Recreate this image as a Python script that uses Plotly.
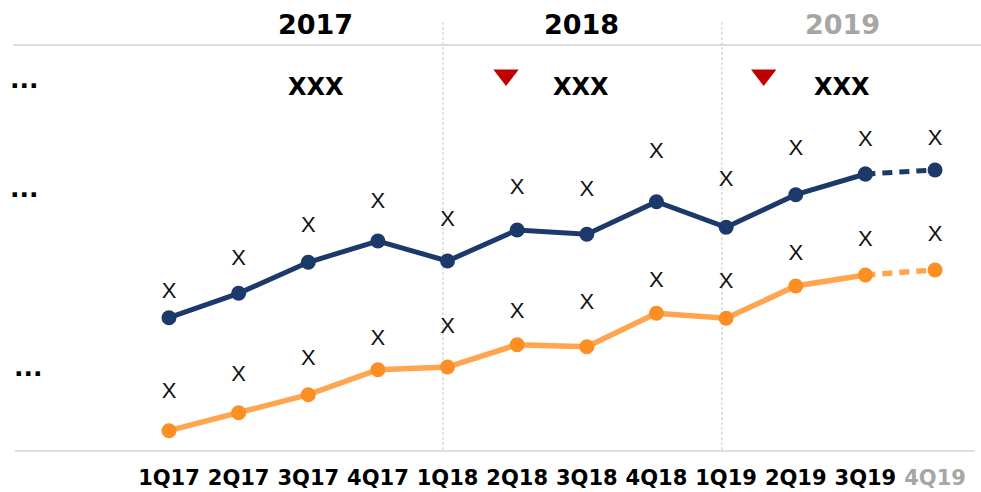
import plotly.graph_objects as go

# ---- data ----
quarters = ["1Q17", "2Q17", "3Q17", "4Q17", "1Q18", "2Q18",
            "3Q18", "4Q18", "1Q19", "2Q19", "3Q19", "4Q19"]
blue_vals = [142.3, 166.7, 197.7, 219.0, 199.0, 230.0,
             225.7, 258.3, 232.7, 265.3, 286.0, 290.0]
orange_vals = [29.3, 47.3, 65.3, 90.3, 93.0, 115.3,
               113.3, 146.7, 141.7, 174.0, 185.0, 190.0]
blue_labels = ["X"] * 12
orange_labels = ["X"] * 12
blue_label_y = [167.7, 200.7, 233.3, 258.0, 239.7, 271.7,
                270.0, 307.7, 279.3, 310.7, 320.0, 320.7]
orange_label_y = [67.7, 84.3, 101.0, 120.7, 132.7, 147.7,
                  156.7, 178.3, 177.7, 205.3, 220.0, 225.0]
years = ["2017", "2018", "2019"]
year_values = ["XXX", "XXX", "XXX"]
row_labels = ["...", "...", "..."]

BLUE = "#1B3A6B"
ORANGE_LINE = "#FFA54F"
ORANGE_MARK = "#FB8F24"
GREY = "#A6A6A6"

x = list(range(len(quarters)))
n_solid = 11  # last segment (3Q19 -> 4Q19) is dashed

fig = go.Figure()

# blue series
fig.add_trace(go.Scatter(x=x[:n_solid], y=blue_vals[:n_solid], mode="lines+markers",
                         line=dict(color=BLUE, width=5),
                         marker=dict(color=BLUE, size=15), showlegend=False, hoverinfo="skip"))
fig.add_trace(go.Scatter(x=x[n_solid - 1:], y=blue_vals[n_solid - 1:], mode="lines+markers",
                         line=dict(color=BLUE, width=5, dash="10px,7px"),
                         marker=dict(color=BLUE, size=15), showlegend=False, hoverinfo="skip"))
# orange series
fig.add_trace(go.Scatter(x=x[:n_solid], y=orange_vals[:n_solid], mode="lines",
                         line=dict(color=ORANGE_LINE, width=5.5), showlegend=False, hoverinfo="skip"))
fig.add_trace(go.Scatter(x=x[n_solid - 1:], y=orange_vals[n_solid - 1:], mode="lines",
                         line=dict(color=ORANGE_LINE, width=5.5, dash="10px,7px"),
                         showlegend=False, hoverinfo="skip"))
fig.add_trace(go.Scatter(x=x, y=orange_vals, mode="markers",
                         marker=dict(color=ORANGE_MARK, size=15), showlegend=False, hoverinfo="skip"))

# value labels
fig.add_trace(go.Scatter(x=x, y=blue_label_y, mode="text", text=blue_labels,
                         textfont=dict(family="Liberation Sans", size=22, color="#111111"),
                         showlegend=False, hoverinfo="skip"))
fig.add_trace(go.Scatter(x=x, y=orange_label_y, mode="text", text=orange_labels,
                         textfont=dict(family="Liberation Sans", size=22, color="#111111"),
                         showlegend=False, hoverinfo="skip"))

# year headers and values
year_x = [2.11, 5.92, 9.67]
year_colors = ["#000000", "#000000", GREY]
for yx, yr, col, val in zip(year_x, years, year_colors, year_values):
    fig.add_annotation(x=yx, y=436, text=yr, showarrow=False, xanchor="center", yanchor="middle",
                       font=dict(family="DejaVu Sans", size=27, color=col, weight="bold"))
    fig.add_annotation(x=yx, y=373, text=val, showarrow=False, xanchor="center", yanchor="middle",
                       font=dict(family="DejaVu Sans", size=24, color="#000000", weight="bold"))

tri_x = [4.84, 8.54]
fig.add_trace(go.Scatter(x=tri_x, y=[385, 385], mode="markers",
                         marker=dict(symbol="triangle-down", size=22, color="#C00000"),
                         showlegend=False, hoverinfo="skip"))

# row labels "..."
for rx, ry, lab in zip([-2.08, -2.08, -2.02], [381, 272, 93], row_labels):
    fig.add_annotation(x=rx, y=ry, text=lab, showarrow=False, xanchor="center", yanchor="middle",
                       font=dict(family="DejaVu Sans", size=25, color="#000000", weight="bold"))

# separators
for sx in [3.934, 7.94]:
    fig.add_shape(type="line", x0=sx, x1=sx, y0=10, y1=440, xref="x", yref="y",
                  line=dict(color="#C8C8C8", width=1, dash="3px,2px"), layer="below")
fig.add_shape(type="line", x0=-0.002, x1=1.01, y0=0.9, y1=0.9, xref="paper", yref="paper",
              line=dict(color="#D0D0D0", width=1.5), layer="below")

ticktext = [q if i < len(quarters) - 1 else f'<span style="color:{GREY}">{q}</span>'
            for i, q in enumerate(quarters)]

fig.update_layout(
    width=981, height=492,
    margin=dict(l=15, r=6, t=0, b=42),
    plot_bgcolor="white", paper_bgcolor="white",
    xaxis=dict(range=[-2.211, 11.574], tickvals=x, ticktext=ticktext,
               showgrid=False, zeroline=False, showline=True, linecolor="#D9DEE7", linewidth=2,
               ticks="", ticklabelstandoff=8,
               tickfont=dict(family="DejaVu Sans", size=21, color="#000000", weight="bold")),
    yaxis=dict(range=[10, 460], visible=False, showgrid=False, zeroline=False),
)

fig.write_html("out.html", config={"displayModeBar": False},
               post_script="document.body.style.margin='0px';")
